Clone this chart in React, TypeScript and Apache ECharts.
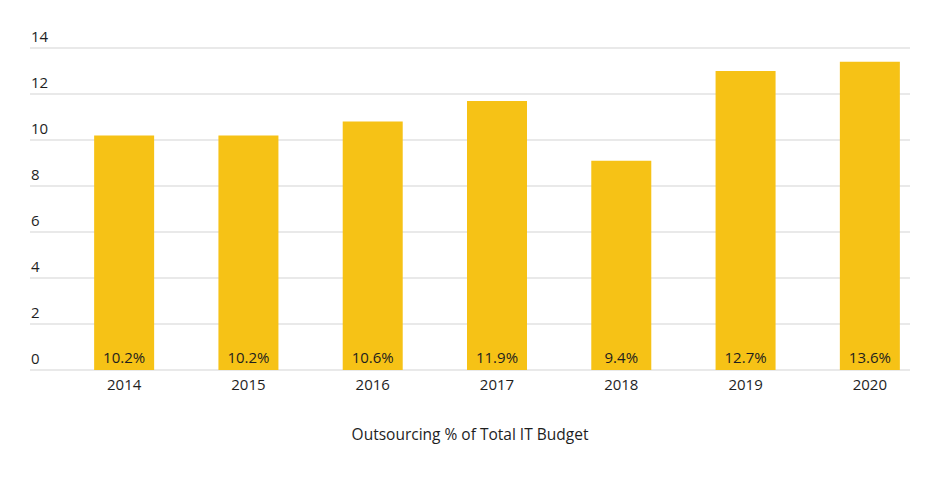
import React, { useEffect, useRef } from "react";
import * as echarts from "echarts";

const categories = ["2014", "2015", "2016", "2017", "2018", "2019", "2020"];
const barHeights = [10.2, 10.2, 10.8, 11.7, 9.1, 13.0, 13.4];
const barLabels = ["10.2%", "10.2%", "10.6%", "11.9%", "9.4%", "12.7%", "13.6%"];
const axisTitle = "Outsourcing % of Total IT Budget";

const FONT = "'Open Sans', 'Noto Sans', sans-serif";
const TEXT = "#1e1e1e";
const FS = 15;

export default function App() {
  const ref = useRef<HTMLDivElement>(null);
  useEffect(() => {
    if (!ref.current) return;
    const chart = echarts.init(ref.current, undefined, { renderer: "svg" });
    chart.setOption({
      animation: false,
      backgroundColor: "#ffffff",
      textStyle: { fontFamily: FONT },
      grid: [
        { left: 30, right: 30, top: 48, height: 322, containLabel: false },
        { left: 62, width: 870, top: 48, height: 322, containLabel: false },
      ],
      xAxis: [
        {
          type: "category",
          gridIndex: 0,
          data: categories,
          axisLine: { show: false },
          axisTick: { show: false },
          axisLabel: { show: false },
          name: axisTitle,
          nameLocation: "middle",
          nameGap: 56,
          nameTextStyle: { color: TEXT, fontSize: 15.5, fontFamily: FONT },
        },
        {
          type: "category",
          gridIndex: 1,
          data: categories,
          axisLine: { show: false },
          axisTick: { show: false },
          axisLabel: { color: TEXT, fontSize: FS, fontFamily: FONT, margin: 6 },
        },
      ],
      yAxis: [
        {
          type: "value",
          gridIndex: 0,
          min: 0,
          max: 14,
          interval: 2,
          axisLine: { show: false },
          axisTick: { show: false },
          splitLine: { show: true, lineStyle: { color: "#e2e2e2", width: 1.5 } },
          axisLabel: {
            inside: true,
            margin: 1,
            verticalAlign: "bottom",
            padding: [0, 0, 5, 0],
            color: TEXT,
            fontSize: FS,
            fontFamily: FONT,
          },
        },
        {
          type: "value",
          gridIndex: 1,
          min: 0,
          max: 14,
          interval: 2,
          show: false,
          splitLine: { show: false },
        },
      ],
      series: [
        {
          type: "bar",
          xAxisIndex: 1,
          yAxisIndex: 1,
          data: barHeights,
          barWidth: 60,
          itemStyle: { color: "#F6C216" },
          label: {
            show: true,
            position: "insideBottom",
            distance: 6,
            color: TEXT,
            fontSize: FS,
            fontFamily: FONT,
            formatter: (p: any) => barLabels[p.dataIndex],
          },
          z: 3,
        },
      ],
    });
    return () => chart.dispose();
  }, []);
  return (
    <div
      ref={ref}
      style={{ position: "fixed", left: 0, top: 0, width: 940, height: 477 }}
    />
  );
}
